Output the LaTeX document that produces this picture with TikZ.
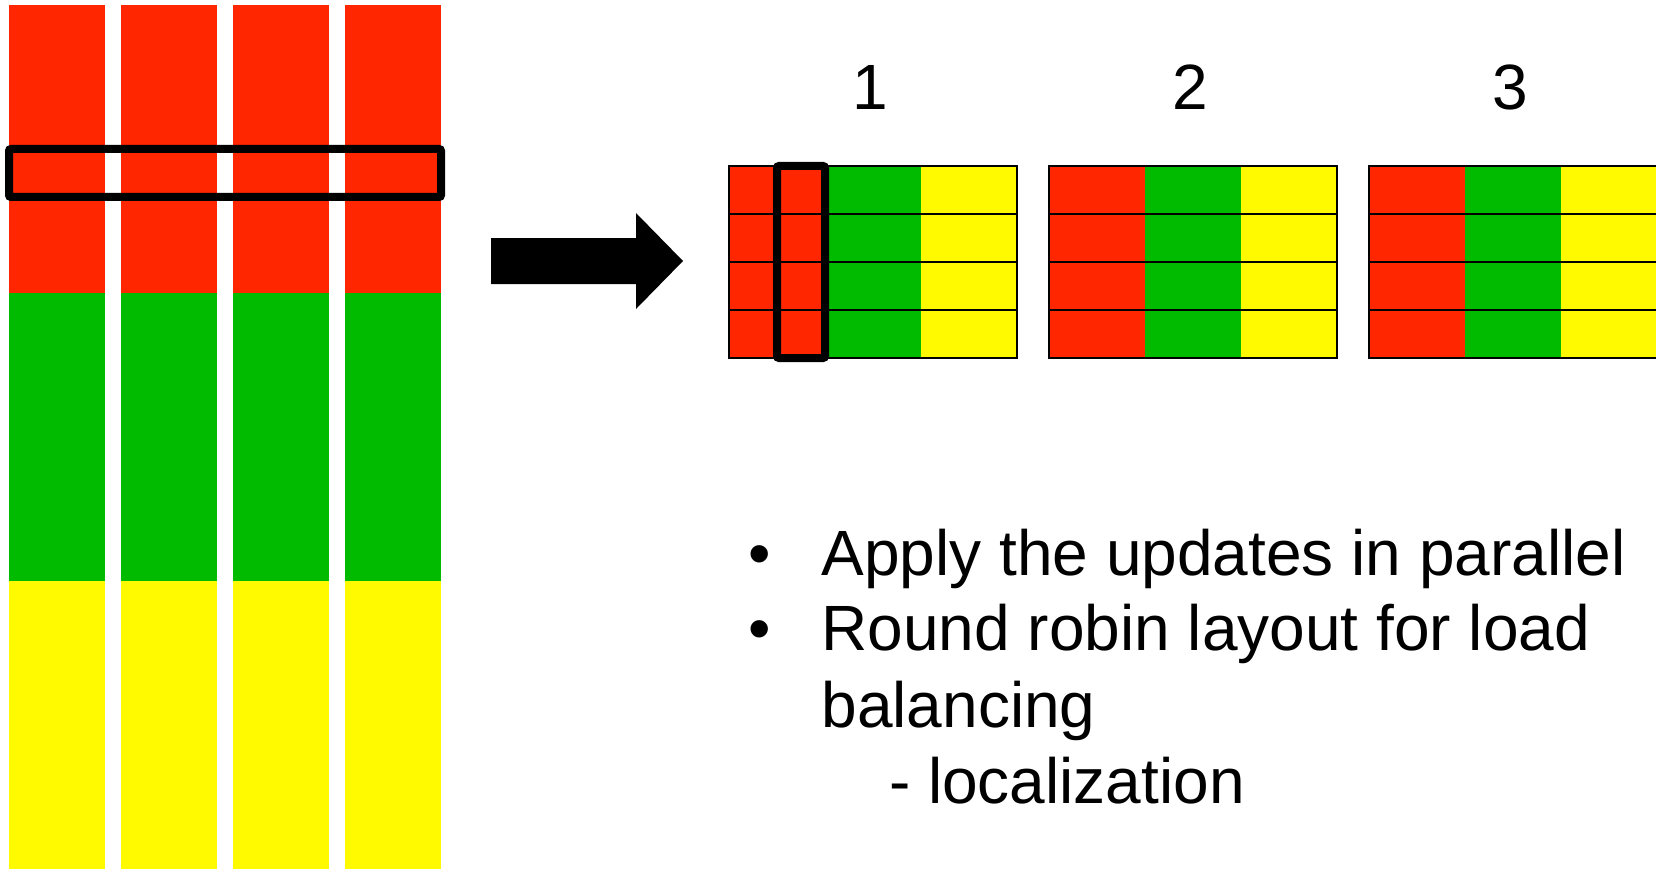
\documentclass[tikz,border=0pt]{standalone}
\usepackage{fontspec}
\setmainfont{Liberation Sans}
\definecolor{cred}{RGB}{255,38,0}
\definecolor{cgreen}{RGB}{0,187,0}
\definecolor{cyellow}{RGB}{255,250,0}
\tikzset{
  txt/.style={inner sep=0pt, outer sep=0pt, font=\fontsize{64}{64}\selectfont},
  gridline/.style={draw=black, line width=2pt},
  hilite/.style={draw=black, line width=8pt, rounded corners=2pt},
}
\begin{document}
\begin{tikzpicture}[x=1pt,y=-1pt]
\clip (0,0) rectangle (1656,869);
\fill[white] (0,0) rectangle (1656,869);
% left columns
\foreach \cx in {9,121,233,345}{
  \fill[cred] (\cx,5) rectangle ++(96,288);
  \fill[cgreen] (\cx,293) rectangle ++(96,288);
  \fill[cyellow] (\cx,581) rectangle ++(96,288);
}
\draw[hilite] (9,149) rectangle (441,197);
% arrow
\fill[black] (491,238) -- (636,238) -- (636,213) -- (683,261) -- (636,309) -- (636,284) -- (491,284) -- cycle;
% grids
\foreach \gx/\lab in {729/1,1049/2,1369/3}{
  \fill[cred] (\gx,166) rectangle ++(96,192);
  \fill[cgreen] (\gx+96,166) rectangle ++(96,192);
  \fill[cyellow] (\gx+192,166) rectangle ++(96,192);
  \foreach \ry in {214,262,310}{
    \draw[gridline] (\gx,\ry) -- ++(288,0);
  }
  \draw[gridline] (\gx,166) rectangle ++(288,192);
  \node[txt, anchor=base] (num\lab) at (\gx+141,110) {\lab};
}
\draw[hilite] (777,166) rectangle (825,358);
% text
\node[txt, anchor=base] (b1) at (760,575) {•};
\node[txt, anchor=base west] (t1) at (821.5,575) {Apply the updates in parallel};
\node[txt, anchor=base] (b2) at (760,650) {•};
\node[txt, anchor=base west] (t2) at (821.5,650) {Round robin layout for load};
\node[txt, anchor=base west] (t3) at (821.5,727) {balancing};
\node[txt, anchor=base west] (t4) at (889,803) {- localization};
\end{tikzpicture}
\end{document}
